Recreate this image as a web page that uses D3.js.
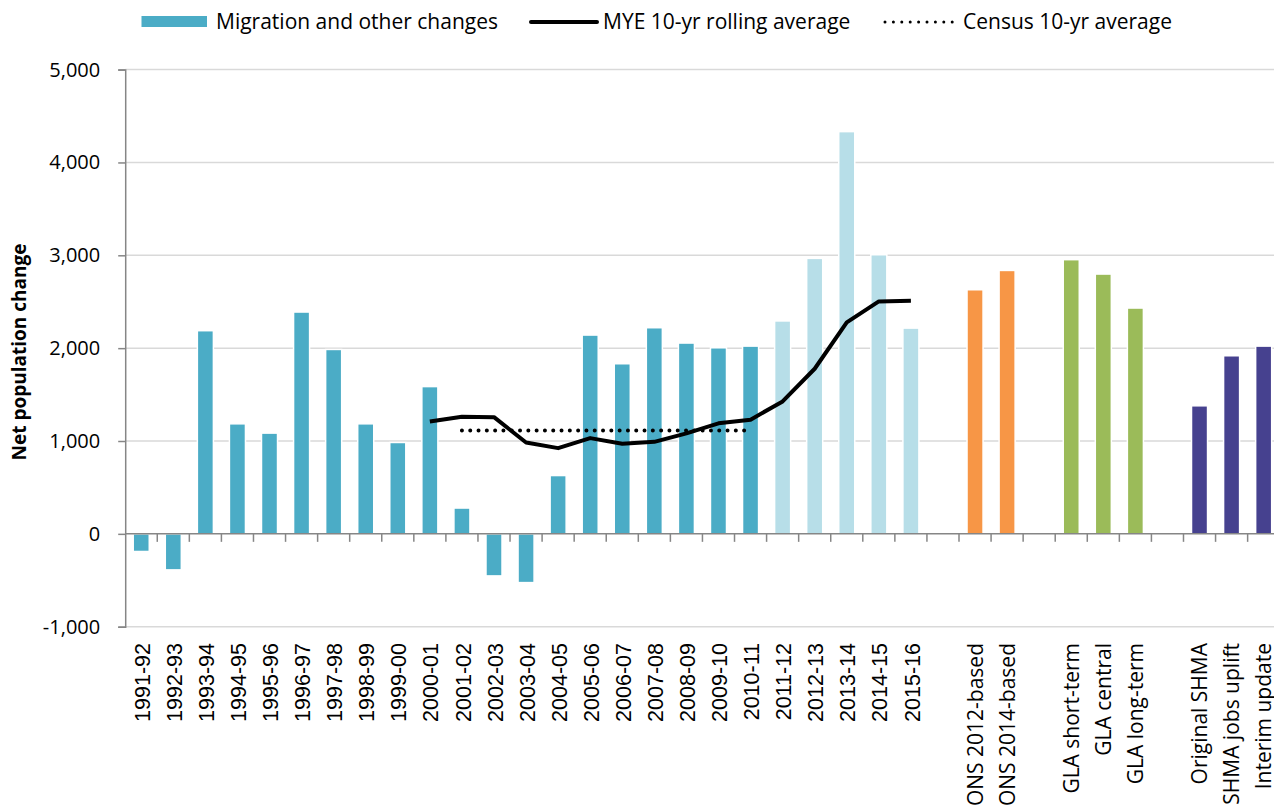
<!DOCTYPE html>
<html>
<head>
<meta charset="utf-8">
<script src="https://cdn.jsdelivr.net/npm/d3@7"></script>
<style>
  body { margin: 0; background: #fff; }
  svg { display: block; }
</style>
</head>
<body>
<div id="container"></div>
<script>
// Categories along the x axis ("" = empty slot between groups)
var categories = ["1991-92", "1992-93", "1993-94", "1994-95", "1995-96", "1996-97", "1997-98",
  "1998-99", "1999-00", "2000-01", "2001-02", "2002-03", "2003-04", "2004-05", "2005-06",
  "2006-07", "2007-08", "2008-09", "2009-10", "2010-11", "2011-12", "2012-13", "2013-14",
  "2014-15", "2015-16", "",
  "ONS 2012-based", "ONS 2014-based", "",
  "GLA short-term", "GLA central", "GLA long-term", "",
  "Original SHMA", "SHMA jobs uplift", "Interim update"];

// Which group each slot belongs to (sets the bar colour)
var groups = ["hist", "hist", "hist", "hist", "hist", "hist", "hist", "hist", "hist", "hist",
  "hist", "hist", "hist", "hist", "hist", "hist", "hist", "hist", "hist", "hist",
  "recent", "recent", "recent", "recent", "recent", "gap",
  "ons", "ons", "gap",
  "gla", "gla", "gla", "gap",
  "shma", "shma", "shma"];

// Migration and other changes / projections
var barValues = [-190, -388, 2188, 1185, 1085, 2389, 1986, 1185, 984, 1586,
  278, -453, -525, 628, 2141, 1832, 2220, 2055, 2004, 2022,
  2293, 2967, 4332, 3006, 2216, null,
  2629, 2837, null,
  2953, 2798, 2432, null,
  1379, 1918, 2022];

// MYE 10-yr rolling average (from 2000-01)
var myeRolling = [null, null, null, null, null, null, null, null, null, 1210,
  1262, 1257, 984, 923, 1031, 970, 991, 1082, 1190, 1230,
  1426, 1778, 2277, 2503, 2511];

// Census 10-yr average (2001-02 to 2010-11)
var censusAvg = [null, null, null, null, null, null, null, null, null, null,
  1113, 1113, 1113, 1113, 1113, 1113, 1113, 1113, 1113, 1113];

var yTicks = [-1000, 0, 1000, 2000, 3000, 4000, 5000];

var colors = { hist: "#4BACC6", recent: "#B7DEE8", ons: "#F79646", gla: "#9BBB59", shma: "#46418F" };

var width = 1274, height = 805;

var svg = d3.select("#container").append("svg")
  .attr("width", width)
  .attr("height", height);

var x = d3.scaleBand()
  .domain(d3.range(categories.length))
  .range([125.2, 1279.7])
  .padding(0);

var y = d3.scaleLinear()
  .domain([-1000, 5000])
  .range([626.7, 69.6]);

var cx = function(i) { return x(i) + x.bandwidth() / 2; };

// Gridlines
svg.append("g")
  .selectAll("line")
  .data(yTicks.filter(function(d) { return d !== 0; }))
  .enter().append("line")
  .attr("x1", 125.2).attr("x2", width)
  .attr("y1", function(d) { return y(d); })
  .attr("y2", function(d) { return y(d); })
  .attr("stroke", "#D9D9D9")
  .attr("stroke-width", 1.5);

// Bars
var barW = x.bandwidth() * 0.5;
svg.append("g")
  .selectAll("rect")
  .data(barValues.map(function(v, i) { return { v: v, i: i }; })
        .filter(function(d) { return d.v !== null; }))
  .enter().append("rect")
  .attr("x", function(d) { return cx(d.i) - barW / 2; })
  .attr("width", barW)
  .attr("y", function(d) { return y(Math.max(0, d.v)); })
  .attr("height", function(d) { return Math.abs(y(d.v) - y(0)); })
  .attr("fill", function(d) { return colors[groups[d.i]]; })
  .attr("stroke", "#fff")
  .attr("stroke-width", 1.5);

// Y axis
var fmt = d3.format(",");
var yAxis = svg.append("g")
  .attr("transform", "translate(125.2,0)")
  .call(d3.axisLeft(y).tickValues(yTicks).tickSize(7).tickPadding(18)
    .tickFormat(function(d) { return fmt(d).replace("\u2212", "-"); }));
yAxis.select(".domain").attr("stroke", "#868686").attr("stroke-width", 1.5);
yAxis.selectAll(".tick line").attr("stroke", "#868686").attr("stroke-width", 1.5);
yAxis.selectAll(".tick text")
  .attr("fill", "#000")
  .style("font-family", "Open Sans")
  .style("font-size", "20px");

// X axis at zero with ticks between bands
var xAxis = svg.append("g");
xAxis.append("line")
  .attr("x1", 125.2).attr("x2", width)
  .attr("y1", y(0)).attr("y2", y(0))
  .attr("stroke", "#868686")
  .attr("stroke-width", 1.5);
xAxis.selectAll(".sep")
  .data(d3.range(1, categories.length))
  .enter().append("line")
  .attr("class", "sep")
  .attr("x1", function(i) { return x(i); })
  .attr("x2", function(i) { return x(i); })
  .attr("y1", y(0)).attr("y2", y(0) + 8)
  .attr("stroke", "#868686")
  .attr("stroke-width", 1.5);

// Category labels
svg.append("g")
  .selectAll("text")
  .data(categories.map(function(c, i) { return { c: c, i: i }; })
        .filter(function(d) { return d.c !== ""; }))
  .enter().append("text")
  .attr("transform", function(d) { return "translate(" + cx(d.i) + ",643) rotate(-90)"; })
  .attr("text-anchor", "end")
  .attr("dy", function(d) { return d.i < 25 ? "0.4em" : "0.36em"; })
  .style("font-family", function(d) { return d.i < 25 ? "Liberation Sans" : "Open Sans"; })
  .style("font-size", function(d) { return d.i < 25 ? "21.5px" : "21px"; })
  .text(function(d) { return d.c; });

// Lines
var line = d3.line()
  .defined(function(d) { return d !== null; })
  .x(function(d, i) { return cx(i); })
  .y(function(d) { return y(d); });

svg.append("path")
  .datum(censusAvg)
  .attr("d", line)
  .attr("fill", "none")
  .attr("stroke", "#000")
  .attr("stroke-width", 4)
  .attr("stroke-linecap", "round")
  .attr("stroke-dasharray", "0,8.3");

svg.append("path")
  .datum(myeRolling)
  .attr("d", line)
  .attr("fill", "none")
  .attr("stroke", "#000")
  .attr("stroke-width", 4)
  .attr("stroke-linejoin", "round");

// Y axis title
svg.append("text")
  .attr("transform", "translate(26,352) rotate(-90)")
  .attr("text-anchor", "middle")
  .style("font-family", "Open Sans")
  .style("font-weight", "bold")
  .style("font-size", "19px")
  .text("Net population change");

// Legend
var legend = svg.append("g")
  .style("font-family", "Open Sans")
  .style("font-size", "21px");

legend.append("rect")
  .attr("x", 141.5).attr("y", 16)
  .attr("width", 65.5).attr("height", 11)
  .attr("fill", colors.hist);
legend.append("text").attr("x", 216).attr("y", 29).text("Migration and other changes");

legend.append("line")
  .attr("x1", 531).attr("x2", 597).attr("y1", 22).attr("y2", 22)
  .attr("stroke", "#000").attr("stroke-width", 4).attr("stroke-linecap", "round");
legend.append("text").attr("x", 603).attr("y", 29).text("MYE 10-yr rolling average");

legend.append("line")
  .attr("x1", 885).attr("x2", 953).attr("y1", 22).attr("y2", 22)
  .attr("stroke", "#000").attr("stroke-width", 3).attr("stroke-linecap", "round")
  .attr("stroke-dasharray", "0,8.4");
legend.append("text").attr("x", 963).attr("y", 29).text("Census 10-yr average");
</script>
</body>
</html>
